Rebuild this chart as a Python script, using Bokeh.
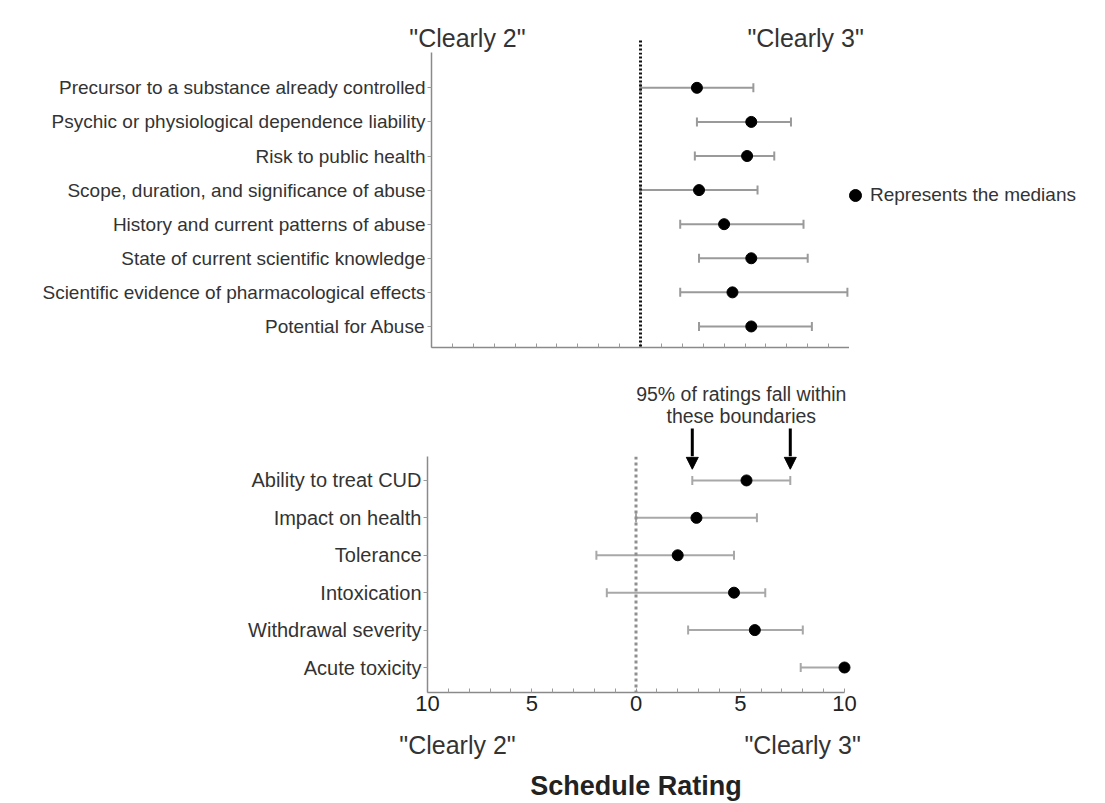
from bokeh.plotting import figure
from bokeh.models import (ColumnDataSource, Range1d, FixedTicker, Span, Whisker, TeeHead,
                          Arrow, NormalHead, Legend, LegendItem)
from bokeh.core.properties import value
from bokeh.layouts import column, row
from bokeh.embed import file_html
from bokeh.resources import INLINE

# ---------------- data ----------------
top_factors = [
    "Precursor to a substance already controlled",
    "Psychic or physiological dependence liability",
    "Risk to public health",
    "Scope, duration, and significance of abuse",
    "History and current patterns of abuse",
    "State of current scientific knowledge",
    "Scientific evidence of pharmacological effects",
    "Potential for Abuse",
]
top_median = [2.7, 5.3, 5.1, 2.8, 4.0, 5.3, 4.4, 5.3]
top_low = [0.0, 2.7, 2.6, 0.0, 1.9, 2.8, 1.9, 2.8]
top_high = [5.4, 7.2, 6.4, 5.6, 7.8, 8.0, 9.9, 8.2]

bot_factors = [
    "Ability to treat CUD",
    "Impact on health",
    "Tolerance",
    "Intoxication",
    "Withdrawal severity",
    "Acute toxicity",
]
bot_median = [5.3, 2.9, 2.0, 4.7, 5.7, 10.0]
bot_low = [2.7, 0.0, -1.9, -1.4, 2.5, 7.9]
bot_high = [7.4, 5.8, 4.7, 6.2, 8.0, 10.0]

x_ticks = list(range(-10, 11))
x_tick_labels = {t: (str(abs(t)) if t % 5 == 0 else "") for t in x_ticks}

FONT = "Liberation Sans"
W = 1100
TOP_L, TOP_R = 431, 849     # top panel: pixel positions of -10 and 10
BOT_L, BOT_R = 427, 844     # bottom panel: pixel positions of -10 and 10
EXTRA = 8                   # room past 10 so end markers are not clipped
TXT = "#333333"


def blank_fig(h, left, right):
    # full-width strip whose x scale matches a panel spanning [left, right] px for -10..10
    upp = 20.0 / (right - left)
    p = figure(width=W, height=h, output_backend="svg", toolbar_location=None,
               x_range=Range1d(-10 - left * upp, 10 + (W - right) * upp),
               y_range=Range1d(h, 0),
               x_axis_location=None, y_axis_location=None,
               min_border_left=0, min_border_right=0,
               min_border_top=0, min_border_bottom=0)
    p.frame_align = False
    p.xgrid.visible = False
    p.ygrid.visible = False
    p.outline_line_color = None
    return p


def style_axes(p, show_x_labels, ysize):
    p.frame_align = False
    p.xgrid.visible = False
    p.ygrid.visible = False
    p.outline_line_color = None
    xa = p.xaxis[0]
    xa.bounds = (-10, 10)
    xa.ticker = FixedTicker(ticks=x_ticks, minor_ticks=[])
    xa.axis_line_color = "#8a8a8a"
    xa.axis_line_width = 1.5
    xa.major_tick_line_color = "#9a9a9a"
    xa.major_tick_in = 4
    xa.major_tick_out = 0
    xa.minor_tick_line_color = None
    if show_x_labels:
        xa.major_label_overrides = x_tick_labels
        xa.major_label_text_font = FONT
        xa.major_label_text_font_size = "22px"
        xa.major_label_text_color = "#222222"
        xa.major_label_standoff = 3
    else:
        xa.major_label_text_font_size = "0px"
        xa.major_label_text_color = None
        xa.major_label_standoff = 0
    ya = p.yaxis[0]
    ya.axis_line_color = "#8a8a8a"
    ya.axis_line_width = 1.5
    ya.major_tick_line_color = "#9a9a9a"
    ya.major_tick_in = 0
    ya.major_tick_out = 4
    ya.minor_tick_line_color = None
    ya.major_label_text_font = FONT
    ya.major_label_text_font_size = ysize
    ya.major_label_text_color = TXT
    ya.major_label_standoff = 2


# ---------------- header strip ("Clearly" labels) ----------------
head = blank_fig(52, TOP_L, TOP_R)
head.text(x=[-8.28, 7.9], y=[37, 37], text=['"Clearly 2"', '"Clearly 3"'],
          text_font=value(FONT), text_font_size="25px", text_color=TXT,
          text_align="center", text_baseline="middle")
head.segment(x0=[0], y0=[40], x1=[0], y1=[52], line_color="#111111",
             line_width=3, line_dash="2 2")

# ---------------- top panel ----------------
n1 = len(top_factors)
y1 = [n1 - 1 - i for i in range(n1)]
src1 = ColumnDataSource(dict(y=y1, med=top_median, lo=top_low, hi=top_high))

p1 = figure(width=TOP_R, height=318, output_backend="svg", toolbar_location=None,
            x_range=Range1d(-10, 10), y_range=Range1d(-0.617, 8.036),
            min_border_left=TOP_L, min_border_right=0,
            min_border_top=0, min_border_bottom=23)
style_axes(p1, False, "19px")
p1.yaxis[0].ticker = FixedTicker(ticks=y1, minor_ticks=[])
p1.yaxis[0].major_label_overrides = {y: f for y, f in zip(y1, top_factors)}

p1.add_layout(Span(location=0, dimension="height", line_color="#111111",
                   line_width=3, line_dash="2 2"))
p1.add_layout(Whisker(source=src1, base="y", lower="lo", upper="hi", dimension="width",
                      line_color="#9a9a9a", line_width=2,
                      lower_head=TeeHead(size=9, line_color="#9a9a9a", line_width=2),
                      upper_head=TeeHead(size=9, line_color="#9a9a9a", line_width=2)))
p1.scatter("med", "y", source=src1, size=11, color="black")

# legend strip to the right of the top panel
legfig = figure(width=W - TOP_R, height=318, output_backend="svg", toolbar_location=None,
                x_range=Range1d(0, W - TOP_R), y_range=p1.y_range,
                x_axis_location=None, y_axis_location=None,
                min_border_left=0, min_border_right=0,
                min_border_top=0, min_border_bottom=23)
legfig.frame_align = False
legfig.xgrid.visible = False
legfig.ygrid.visible = False
legfig.outline_line_color = None
# a marker kept outside the visible range, used only as the legend's glyph
rl = legfig.scatter(x=[-1000], y=[0], size=11, color="black")
legend = Legend(items=[LegendItem(label="Represents the medians", renderers=[rl])],
                location=(-9, 137), glyph_width=30, glyph_height=30,
                label_standoff=0, padding=0, margin=0, spacing=0,
                label_text_font=FONT, label_text_font_size="19px",
                label_text_color=TXT, background_fill_alpha=0,
                border_line_color=None)
legfig.add_layout(legend, "center")

# ---------------- middle strip (95% note + arrow shafts) ----------------
cud_lo, cud_hi = bot_low[0], bot_high[0]
mid_x = (cud_lo + cud_hi) / 2
mid = blank_fig(86, BOT_L, BOT_R)
mid.text(x=[mid_x, mid_x], y=[23, 45], text=["95% of ratings fall within", "these boundaries"],
         text_font=value(FONT), text_font_size="19.5px", text_color=TXT,
         text_align="center", text_baseline="middle")
mid.segment(x0=[cud_lo, cud_hi], y0=[58, 58], x1=[cud_lo, cud_hi], y1=[86, 86],
            line_color="black", line_width=3)

# ---------------- bottom panel ----------------
n2 = len(bot_factors)
y2 = [n2 - 1 - i for i in range(n2)]
src2 = ColumnDataSource(dict(y=y2, med=bot_median, lo=bot_low, hi=bot_high))
upp2 = 20.0 / (BOT_R - BOT_L)

p2 = figure(width=W, height=272, output_backend="svg", toolbar_location=None,
            x_range=Range1d(-10, 10 + EXTRA * upp2), y_range=Range1d(-0.668, 5.64),
            min_border_left=BOT_L, min_border_right=W - BOT_R - EXTRA,
            min_border_top=0, min_border_bottom=36)
style_axes(p2, True, "20px")
p2.yaxis[0].ticker = FixedTicker(ticks=y2, minor_ticks=[])
p2.yaxis[0].major_label_overrides = {y: f for y, f in zip(y2, bot_factors)}

p2.add_layout(Span(location=0, dimension="height", line_color="#8f8f8f",
                   line_width=3, line_dash="3 3"))
p2.add_layout(Whisker(source=src2, base="y", lower="lo", upper="hi", dimension="width",
                      line_color="#a8a8a8", line_width=2,
                      lower_head=TeeHead(size=9, line_color="#a8a8a8", line_width=2),
                      upper_head=TeeHead(size=9, line_color="#a8a8a8", line_width=2)))
p2.scatter("med", "y", source=src2, size=11, color="black")
for xa_ in (cud_lo, cud_hi):
    p2.add_layout(Arrow(x_start=xa_, y_start=5.64, x_end=xa_, y_end=5.30,
                        line_color="black", line_width=3,
                        end=NormalHead(size=12, fill_color="black", line_color="black")))

# ---------------- footer strip ----------------
foot = blank_fig(75, BOT_L, BOT_R)
foot.text(x=[-8.56, 7.99], y=[16, 16], text=['"Clearly 2"', '"Clearly 3"'],
          text_font=value(FONT), text_font_size="25px", text_color=TXT,
          text_align="center", text_baseline="middle")
foot.text(x=[0], y=[57], text=["Schedule Rating"], text_font=value(FONT),
          text_font_size="27px", text_font_style="bold", text_color="#222222",
          text_align="center", text_baseline="middle")

layout = column(head, row(p1, legfig, spacing=0), mid, p2, foot, spacing=0)
open("out.html", "w").write(file_html(layout, INLINE))
